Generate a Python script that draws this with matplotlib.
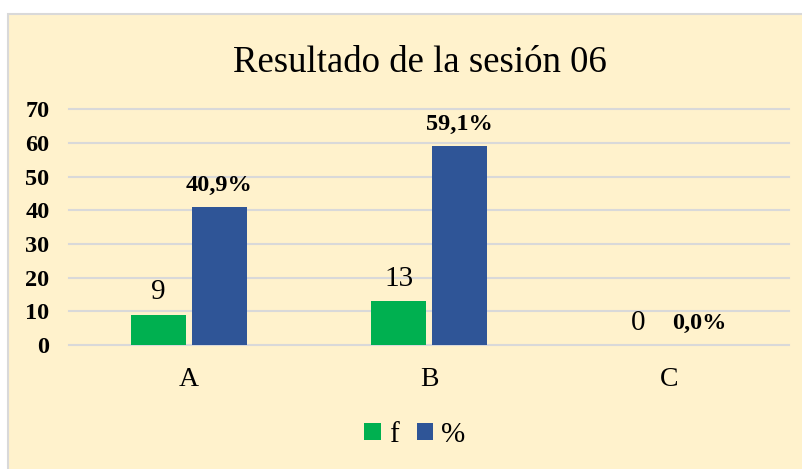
import matplotlib
matplotlib.use("Agg")
import matplotlib.pyplot as plt
from matplotlib.patches import Rectangle, Patch
import numpy as np

categories = ["A", "B", "C"]
f_values = [9, 13, 0]
pct_values = [40.9, 59.1, 0.0]
f_labels = ["9", "13", "0"]
pct_labels = ["40,9%", "59,1%", "0,0%"]
yticks = [0, 10, 20, 30, 40, 50, 60, 70]
title = "Resultado de la sesión 06"

plt.rcParams['font.family'] = ['Liberation Serif', 'DejaVu Serif']

BG = "#FFF2CC"
GREEN = "#00B050"
BLUE = "#2F5597"
GRID = "#D9D9D9"

fig = plt.figure(figsize=(8.02, 4.69), dpi=100)
fig.patch.set_facecolor("white")
W, H = 802, 469
bg = Rectangle((8 / W, -0.01), 1.0, (469 - 14) / H + 0.01, transform=fig.transFigure,
               facecolor=BG, edgecolor=GRID, linewidth=1.5, zorder=-10)
fig.patches.append(bg)

ax = fig.add_axes([69 / W, 124 / H, 720 / W, 235.7 / H])
ax.set_facecolor("none")
x = np.arange(len(categories))
off = 0.127
bw = 0.23
ax.bar(x - off, f_values, bw, color=GREEN, zorder=3)
ax.bar(x + off, pct_values, bw, color=BLUE, zorder=3)

for xi, v, lab in zip(x, f_values, f_labels):
    ax.annotate(lab, (xi - off, v), xytext=(0, 11), textcoords="offset points",
                ha="center", va="baseline", fontsize=21, color="black")
for xi, v, lab in zip(x, pct_values, pct_labels):
    ax.annotate(lab, (xi + off, v), xytext=(0, 11.5), textcoords="offset points",
                ha="center", va="baseline", fontsize=17.5, fontweight="bold", color="black")

ax.set_xlim(-0.5, 2.5)
ax.set_ylim(0, 70)
ax.set_yticks(yticks)
ax.set_yticklabels([str(t) for t in yticks], fontsize=17.5, fontweight="bold")
ax.set_xticks(x)
ax.set_xticklabels(categories, fontsize=20)
ax.tick_params(axis="both", length=0)
ax.tick_params(axis="y", pad=14)
ax.tick_params(axis="x", pad=16)
for s in ax.spines.values():
    s.set_visible(False)
for t in yticks:
    ax.axhline(t, color=GRID, linewidth=1.5, zorder=1, clip_on=False)

fig.text(419.5 / W, (469 - 72) / H, title, ha="center", va="baseline", fontsize=26.5)

handles = [Patch(facecolor=GREEN, label="f"), Patch(facecolor=BLUE, label="%")]
fig.legend(handles=handles, loc="center", bbox_to_anchor=(415 / W, (469 - 435) / H),
           ncol=2, frameon=False, fontsize=21, handlelength=0.55, handleheight=0.55,
           handletextpad=0.3, columnspacing=0.6)

fig.savefig("out.png", dpi=100, facecolor=fig.get_facecolor())
